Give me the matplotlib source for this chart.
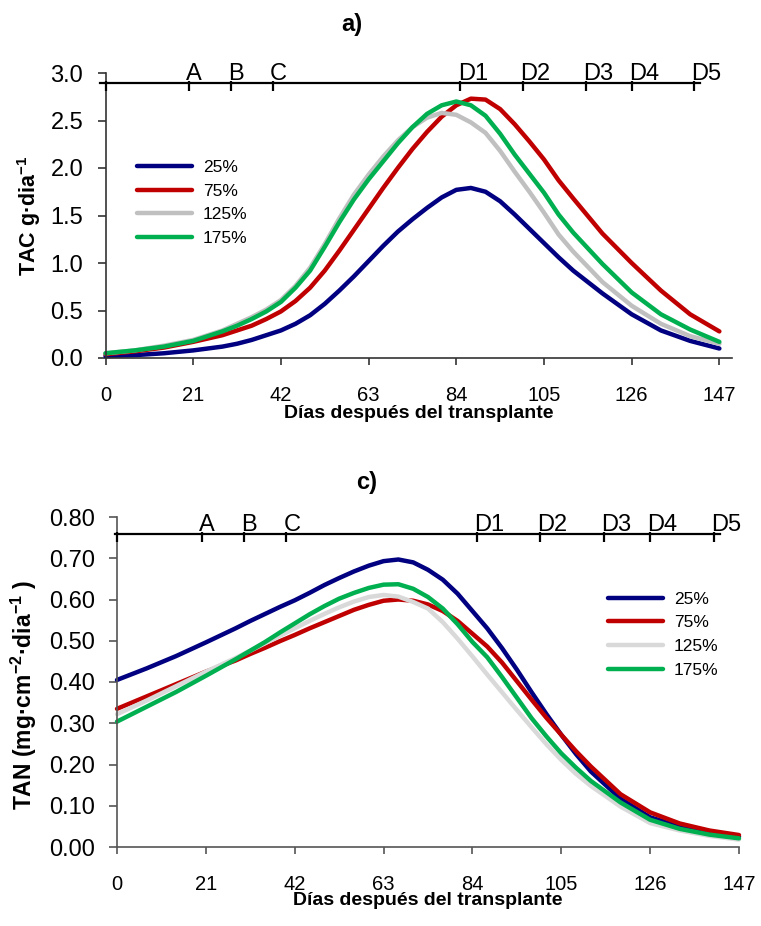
import matplotlib
matplotlib.use('Agg')
import matplotlib.pyplot as plt
from matplotlib.ticker import FormatStrFormatter

plt.rcParams['font.family'] = ['Liberation Sans', 'DejaVu Sans']
plt.rcParams['mathtext.fontset'] = 'custom'
plt.rcParams['mathtext.rm'] = 'Liberation Sans'
plt.rcParams['mathtext.bf'] = 'Liberation Sans:bold'
plt.rcParams['mathtext.it'] = 'Liberation Sans:italic'

# ---------------- data ----------------
days = [0, 7, 14, 21, 28, 31.5, 35, 38.5, 42, 45.5, 49, 52.5, 56, 59.5, 63, 66.5, 70, 73.5, 77, 80.5, 84,
        87.5, 91, 94.5, 98, 101.5, 105, 108.5, 112, 119, 126, 133, 140, 147]
series_labels = ['25%', '75%', '125%', '175%']

# a) TAC g·dia-1
tac_25 = [0.02, 0.03, 0.05, 0.08, 0.12, 0.15, 0.19, 0.24, 0.29, 0.36, 0.45, 0.57, 0.71, 0.86, 1.02, 1.18,
          1.33, 1.46, 1.58, 1.69, 1.77, 1.79, 1.75, 1.65, 1.51, 1.36, 1.21, 1.06, 0.92, 0.68, 0.46, 0.29,
          0.18, 0.10]
tac_75 = [0.04, 0.07, 0.11, 0.17, 0.24, 0.29, 0.34, 0.41, 0.49, 0.60, 0.74, 0.92, 1.13, 1.35, 1.57, 1.79,
          2.00, 2.20, 2.38, 2.54, 2.66, 2.73, 2.72, 2.62, 2.46, 2.28, 2.09, 1.87, 1.68, 1.31, 1.00, 0.71,
          0.46, 0.28]
tac_125 = [0.05, 0.08, 0.13, 0.19, 0.29, 0.36, 0.43, 0.51, 0.61, 0.76, 0.95, 1.20, 1.47, 1.72, 1.93, 2.12,
           2.29, 2.43, 2.53, 2.58, 2.56, 2.48, 2.37, 2.18, 1.96, 1.75, 1.53, 1.30, 1.12, 0.80, 0.55, 0.36,
           0.23, 0.15]
tac_175 = [0.05, 0.08, 0.12, 0.18, 0.28, 0.34, 0.41, 0.49, 0.59, 0.74, 0.92, 1.17, 1.43, 1.67, 1.88, 2.07,
           2.26, 2.43, 2.57, 2.66, 2.70, 2.66, 2.55, 2.36, 2.14, 1.94, 1.74, 1.51, 1.32, 0.99, 0.69, 0.46,
           0.30, 0.17]

# c) TAN mg·cm-2·dia-1
tan_25 = [0.405, 0.433, 0.463, 0.496, 0.530, 0.548, 0.565, 0.582, 0.598, 0.616, 0.635, 0.652, 0.668, 0.682,
          0.693, 0.697, 0.690, 0.672, 0.648, 0.614, 0.572, 0.530, 0.482, 0.430, 0.375, 0.322, 0.272,
          0.225, 0.183, 0.117, 0.072, 0.050, 0.034, 0.025]
tan_75 = [0.335, 0.365, 0.395, 0.425, 0.452, 0.468, 0.483, 0.499, 0.514, 0.530, 0.545, 0.560, 0.575, 0.587,
          0.597, 0.600, 0.597, 0.588, 0.572, 0.548, 0.517, 0.486, 0.447, 0.402, 0.357, 0.313, 0.272,
          0.232, 0.195, 0.128, 0.084, 0.057, 0.040, 0.029]
tan_125 = [0.322, 0.355, 0.390, 0.425, 0.458, 0.476, 0.494, 0.512, 0.530, 0.548, 0.565, 0.581, 0.595, 0.606,
           0.611, 0.607, 0.594, 0.578, 0.545, 0.505, 0.462, 0.418, 0.375, 0.332, 0.290, 0.249, 0.211,
           0.177, 0.148, 0.098, 0.058, 0.040, 0.027, 0.018]
tan_175 = [0.304, 0.340, 0.376, 0.415, 0.455, 0.476, 0.497, 0.520, 0.542, 0.564, 0.584, 0.602, 0.616, 0.628,
           0.636, 0.637, 0.626, 0.606, 0.578, 0.540, 0.497, 0.460, 0.412, 0.362, 0.312, 0.268, 0.227,
           0.192, 0.160, 0.108, 0.066, 0.044, 0.030, 0.021]

# phenological stages
stage_labels = ['', 'A', 'B', 'C', 'D1', 'D2', 'D3', 'D4', 'D5']
stage_days = [0, 20, 30, 40, 85, 100, 115, 126, 141]

x_ticks = [0, 21, 42, 63, 84, 105, 126, 147]
tac_yticks = [0.0, 0.5, 1.0, 1.5, 2.0, 2.5, 3.0]
tan_yticks = [0.0, 0.1, 0.2, 0.3, 0.4, 0.5, 0.6, 0.7, 0.8]

colors_a = ['#000080', '#C00000', '#C0C0C0', '#00B050']
colors_c = ['#000080', '#C00000', '#D9D9D9', '#00B050']

# ---------------- figure ----------------
W, H = 761, 926
fig = plt.figure(figsize=(W / 100, H / 100), dpi=100)


def axrect(x0, x1, ytop, ybot):
    return [x0 / W, 1 - ybot / H, (x1 - x0) / W, (ybot - ytop) / H]


ax1 = fig.add_axes(axrect(105.5, 731.9, 73, 358))
ax2 = fig.add_axes(axrect(117, 739, 517, 847))


def style_axes(ax, yticks, yfmt, xlim, ylim, spine_color):
    ax.set_xlim(*xlim)
    ax.set_ylim(*ylim)
    for s in ['top', 'right']:
        ax.spines[s].set_visible(False)
    for s in ['left', 'bottom']:
        ax.spines[s].set_color(spine_color)
        ax.spines[s].set_linewidth(1.2)
    ax.set_xticks(x_ticks)
    ax.set_yticks(yticks)
    ax.yaxis.set_major_formatter(FormatStrFormatter(yfmt))
    ax.tick_params(axis='y', direction='out', length=6, width=1.2, color=spine_color,
                   labelsize=17, pad=10)
    ax.tick_params(axis='x', direction='out', length=5, width=1.2, color=spine_color,
                   labelsize=14.5, pad=15)


def stage_line(ax, y, x0, x1):
    ax.plot([x0, x1], [y, y], color='black', lw=1.6, clip_on=False, zorder=5)
    ax.plot(stage_days, [y] * len(stage_days), linestyle='none',
            marker=[(0, 0.3), (0, -1)], markersize=11, markeredgewidth=1.6,
            color='black', clip_on=False, zorder=5)
    for lab, d in zip(stage_labels, stage_days):
        if lab:
            ax.annotate(lab, (d, y), xytext=(-2, 2), textcoords='offset points',
                        ha='left', va='baseline', fontsize=17, annotation_clip=False)


# ---- panel a ----
for vals, lab, c in zip([tac_25, tac_75, tac_125, tac_175], series_labels, colors_a):
    ax1.plot(days, vals, color=c, lw=3.2, label=lab, solid_capstyle='round',
             solid_joinstyle='round', clip_on=False)
style_axes(ax1, tac_yticks, '%.1f', (0, 150), (0, 3.0), '#333333')
stage_line(ax1, 2.9, -1.3, 142.4)
ax1.set_ylabel(r'TAC g·dia$^{\mathbf{-1}}$', fontsize=15.5, fontweight='bold')
ax1.yaxis.set_label_coords(-0.10, 0.5)
ax1.xaxis.set_label_coords(0.355, -0.165)
ax1.set_xlabel('Días después del transplante', fontsize=14, fontweight='bold', va='top')
ax1.legend(loc='center left', bbox_to_anchor=(0.05, 0.544), frameon=False,
           fontsize=12.5, handlelength=3.2, handletextpad=0.6, labelspacing=0.5,
           borderpad=0, borderaxespad=0)
fig.text(352 / W, 1 - 24 / H, 'a)', fontsize=17, fontweight='bold', ha='center', va='center')

# ---- panel c ----
for vals, lab, c in zip([tan_25, tan_75, tan_125, tan_175], series_labels, colors_c):
    ax2.plot(days, vals, color=c, lw=3.2, label=lab, solid_capstyle='round',
             solid_joinstyle='round', clip_on=False)
style_axes(ax2, tan_yticks, '%.2f', (0, 147), (0, 0.8), '#555555')
stage_line(ax2, 0.76, -0.5, 142.4)
ax2.set_ylabel(r'TAN (mg·cm$^{\mathbf{-2}}$·dia$^{\mathbf{-1}}$ )', fontsize=16.5, fontweight='bold')
ax2.yaxis.set_label_coords(-0.125, 0.46)
ax2.xaxis.set_label_coords(0.347, -0.136)
ax2.set_xlabel('Días después del transplante', fontsize=14, fontweight='bold', va='top')
ax2.legend(loc='center left', bbox_to_anchor=(0.789, 0.643), frameon=False,
           fontsize=12.5, handlelength=3.2, handletextpad=0.6, labelspacing=0.5,
           borderpad=0, borderaxespad=0)
fig.text(367 / W, 1 - 483 / H, 'c)', fontsize=17, fontweight='bold', ha='center', va='center')

fig.savefig('out.png', dpi=100)
